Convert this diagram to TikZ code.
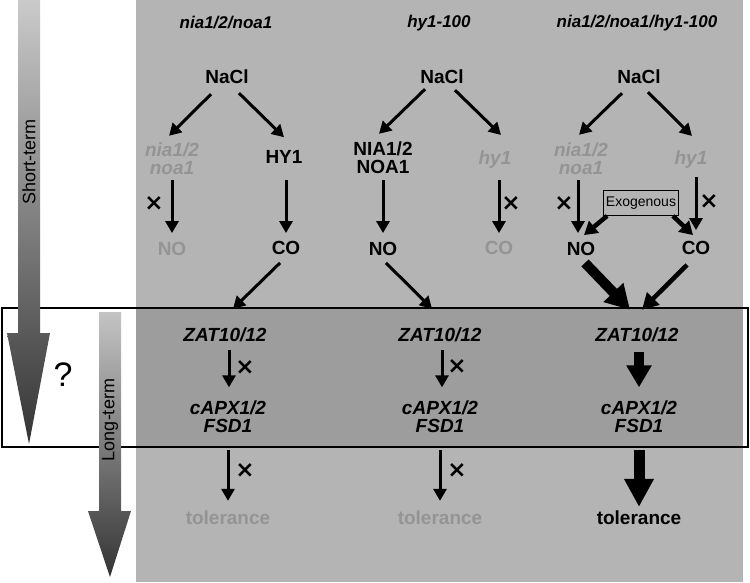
\documentclass[tikz,border=0pt]{standalone}
\usepackage{fontspec}
\setmainfont{Liberation Sans}
\newfontfamily\marksfont{DejaVu Sans}
\usetikzlibrary{arrows.meta}
\definecolor{bggray}{RGB}{180,180,180}
\definecolor{bandgray}{RGB}{157,157,157}
\definecolor{fadegray}{RGB}{148,148,148}

\begin{document}
\begin{tikzpicture}[x=1pt, y=-1pt,
        mol/.style={font=\bfseries\fontsize{19}{18}\selectfont, align=center, inner sep=0pt},
        gene/.style={mol, font=\bfseries\itshape\fontsize{19}{18}\selectfont},
        off/.style={text=fadegray},
        head/.style={font=\bfseries\itshape\fontsize{17}{18}\selectfont},
        xmark/.style={font=\marksfont\bfseries\fontsize{23}{23}\selectfont, inner sep=0pt},
        exo/.style={draw, line width=0.8pt, fill=bggray, minimum width=75pt, minimum height=25pt, inner sep=0pt, font=\fontsize{14}{14}\selectfont},
        side/.style={font=\fontsize{18}{18}\selectfont, rotate=90},
        arr/.style={-{Triangle[length=12pt,width=13pt]}, line width=3pt},
        exoarr/.style={-{Triangle[length=13pt,width=15pt]}, line width=4.5pt},
        midarr/.style={-{Triangle[length=16pt,width=17pt]}, line width=4.5pt},
        bigarr/.style={-{Triangle[length=22pt,width=24pt]}, line width=10pt},
        hugearr/.style={-{Triangle[length=24pt,width=26pt]}, line width=10pt},
        tolarr/.style={-{Triangle[length=28pt,width=28pt]}, line width=11pt}
    ]
        \useasboundingbox (0,0) rectangle (750,582);

        % panels
        \fill[bggray] (136,0) rectangle (743,582);
        \fill[bandgray] (136,308) rectangle (743,447);
        \draw[line width=1.2pt] (2,308) rectangle (748,447);

        % time arrows
        \shade[top color={rgb,255:red,202;green,202;blue,202}, bottom color={rgb,255:red,52;green,52;blue,52}]
            (18,0) -- (40,0) -- (40,333) -- (50,333) -- (29,444) -- (7,333) -- (18,333) -- cycle;
        \shade[top color={rgb,255:red,196;green,196;blue,196}, bottom color={rgb,255:red,52;green,52;blue,52}]
            (99,312) -- (121,312) -- (121,511) -- (131,511) -- (110,577) -- (88,511) -- (99,511) -- cycle;
        \node[side] (short_lbl) at (29,162) {Short-term};
        \node[side] (long_lbl) at (110,420) {Long-term};
        \node[font=\fontsize{34}{34}\selectfont, inner sep=0pt] (qmark) at (63,375) {?};

        % Labels
        \node[head] (t1) at (226,23) {nia1/2/noa1};
        \node[head] (t2) at (439,23) {hy1-100};
        \node[head] (t3) at (637,23) {nia1/2/noa1/hy1-100};

        % Column 1: nia1/2/noa1
        \node[mol] (c1_nacl) at (227,77) {NaCl};
        \node[gene, off] (c1_nia) at (172,159) {nia1/2\\noa1};
        \node[mol] (c1_hy1) at (284,157) {HY1};
        \node[mol, off] (c1_no) at (172,249) {NO};
        \node[mol] (c1_co) at (286,248) {CO};
        \node[gene] (c1_zat) at (225,335) {ZAT10/12};
        \node[gene] (c1_capx) at (228,416.5) {cAPX1/2\\FSD1};
        \node[mol, off] (c1_tol) at (228,518) {tolerance};
        \draw[arr] ([xshift=-16pt,yshift=-10pt]c1_nacl.south) -- ([xshift=-3pt,yshift=7pt]c1_nia.north);
        \draw[arr] ([xshift=12pt,yshift=-9pt]c1_nacl.south) -- ([yshift=13pt]c1_hy1.north);
        \draw[arr] ([yshift=-5pt]c1_nia.south) -- ([yshift=9pt]c1_no.north);
        \draw[arr] ([xshift=2pt,yshift=-16pt]c1_hy1.south) -- ([yshift=8pt]c1_co.north);
        \draw[arr] ([xshift=-6pt,yshift=-8pt]c1_co.south) -- ([xshift=8pt,yshift=19pt]c1_zat.north);
        \draw[arr] ([xshift=4pt,yshift=-8pt]c1_zat.south) -- ([xshift=1pt,yshift=13pt]c1_capx.north);
        \draw[arr] ([yshift=-17pt]c1_capx.south) -- ([yshift=10pt]c1_tol.north);
        \node[xmark] (c1_x1) at (154,204) {×};
        \node[xmark] (c1_x2) at (245,368) {×};
        \node[xmark] (c1_x3) at (245,471) {×};

        % Column 2: hy1-100
        \node[mol] (c2_nacl) at (442,77) {NaCl};
        \node[mol] (c2_nia) at (383,158) {NIA1/2\\NOA1};
        \node[gene, off] (c2_hy1) at (495,160) {hy1};
        \node[mol] (c2_no) at (383,249) {NO};
        \node[mol, off] (c2_co) at (499,248) {CO};
        \node[gene] (c2_zat) at (440,335) {ZAT10/12};
        \node[gene] (c2_capx) at (440,416.5) {cAPX1/2\\FSD1};
        \node[mol, off] (c2_tol) at (440,518) {tolerance};
        \draw[arr] ([xshift=-17pt,yshift=-5pt]c2_nacl.south) -- ([xshift=-4pt,yshift=8pt]c2_nia.north);
        \draw[arr] ([xshift=13pt,yshift=-6pt]c2_nacl.south) -- ([xshift=6pt,yshift=16pt]c2_hy1.north);
        \draw[arr] ([yshift=-6pt]c2_nia.south) -- ([yshift=9pt]c2_no.north);
        \draw[arr] ([xshift=4pt,yshift=-11pt]c2_hy1.south) -- ([yshift=8pt]c2_co.north);
        \draw[arr] ([xshift=3pt,yshift=-7pt]c2_no.south) -- ([xshift=-8pt,yshift=19pt]c2_zat.north);
        \draw[arr] ([xshift=2pt,yshift=-8pt]c2_zat.south) -- ([xshift=2pt,yshift=13pt]c2_capx.north);
        \draw[arr] ([yshift=-17pt]c2_capx.south) -- ([yshift=10pt]c2_tol.north);
        \node[xmark] (c2_x1) at (511,204) {×};
        \node[xmark] (c2_x2) at (457,367) {×};
        \node[xmark] (c2_x3) at (457,471) {×};

        % Column 3: nia1/2/noa1/hy1-100
        \node[mol] (c3_nacl) at (639,77) {NaCl};
        \node[gene, off] (c3_nia) at (581,159) {nia1/2\\noa1};
        \node[gene, off] (c3_hy1) at (691,160) {hy1};
        \node[mol] (c3_no) at (581,249) {NO};
        \node[mol] (c3_co) at (696,248) {CO};
        \node[exo] (c3_exo) at (641,203) {Exogenous};
        \node[gene] (c3_zat) at (637,335) {ZAT10/12};
        \node[gene] (c3_capx) at (639,416.5) {cAPX1/2\\FSD1};
        \node[mol] (c3_tol) at (639,518) {tolerance};
        \draw[arr] ([xshift=-17pt,yshift=-9pt]c3_nacl.south) -- ([xshift=-2pt,yshift=8pt]c3_nia.north);
        \draw[arr] ([xshift=9pt,yshift=-8pt]c3_nacl.south) -- ([xshift=1pt,yshift=15pt]c3_hy1.north);
        \draw[arr] ([xshift=-3pt,yshift=-5pt]c3_nia.south) -- ([xshift=-3pt,yshift=9pt]c3_no.north);
        \draw[arr] ([xshift=5pt,yshift=-8pt]c3_hy1.south) -- ([yshift=11pt]c3_co.north);
        \draw[exoarr] ([xshift=4pt]c3_exo.south west) -- ([xshift=3pt,yshift=7pt]c3_no.north);
        \draw[exoarr] ([xshift=-6pt]c3_exo.south east) -- ([xshift=-3pt,yshift=6pt]c3_co.north);
        \draw[hugearr] ([xshift=4pt,yshift=-7pt]c3_no.south) -- ([xshift=-7pt,yshift=18pt]c3_zat.north);
        \draw[midarr] ([xshift=-9pt,yshift=-10pt]c3_co.south) -- ([xshift=5pt,yshift=18pt]c3_zat.north);
        \draw[bigarr] ([xshift=2pt,yshift=-10pt]c3_zat.south) -- ([yshift=13pt]c3_capx.north);
        \draw[tolarr] ([yshift=-17pt]c3_capx.south) -- ([yshift=4pt]c3_tol.north);
        \node[xmark] (c3_x1) at (564,204) {×};
        \node[xmark] (c3_x2) at (709,202) {×};

    \end{tikzpicture}
\end{document}
